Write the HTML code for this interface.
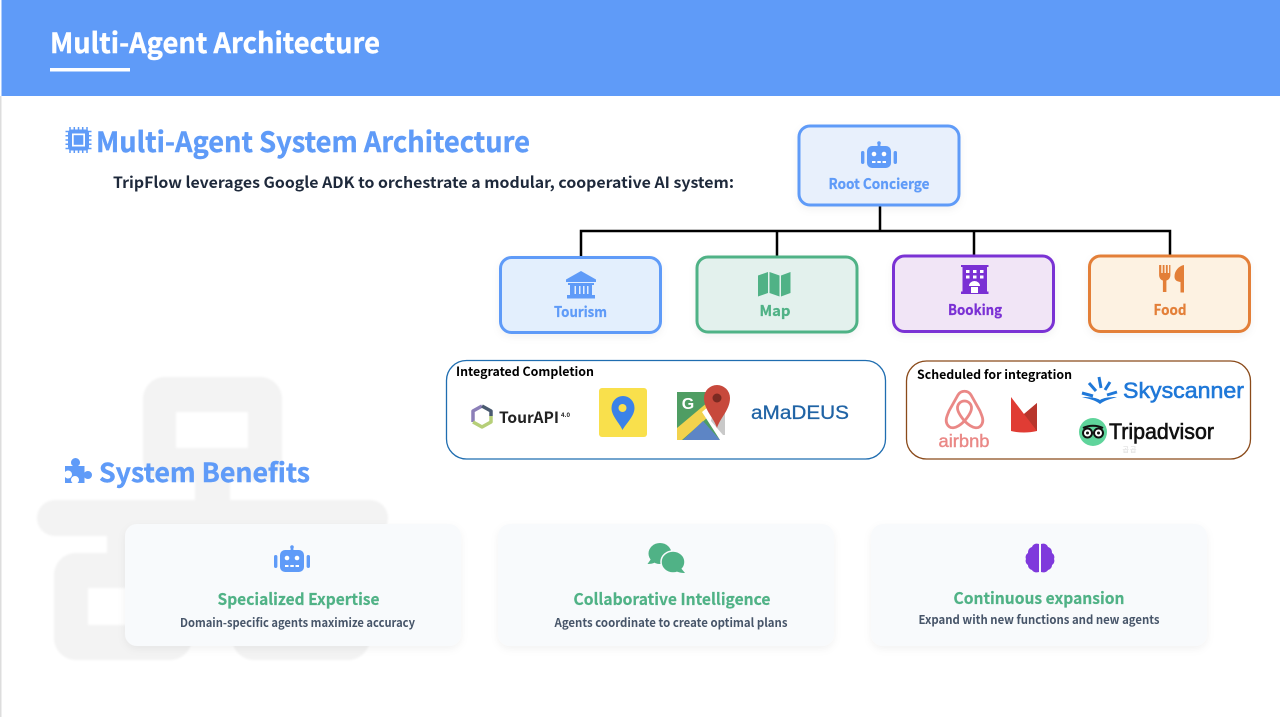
<!DOCTYPE html>
<html><head><meta charset="utf-8"><style>
html,body{margin:0;padding:0;background:#fff;width:1280px;height:717px;overflow:hidden}
svg{display:block}
text{font-family:"Noto Sans CJK KR","Liberation Sans",sans-serif;font-weight:700}
</style></head><body>
<svg width="1280" height="717" viewBox="0 0 1280 717" xmlns="http://www.w3.org/2000/svg">
<defs>
<filter id="s" x="-10%" y="-15%" width="120%" height="135%"><feDropShadow dx="0" dy="3" stdDeviation="4" flood-color="#000" flood-opacity=".05"/></filter>
<filter id="b" x="-5%" y="-5%" width="110%" height="110%"><feGaussianBlur stdDeviation="1"/></filter>
<g id="robot">
<rect x="-12" y="-11" width="24" height="22" rx="5"/>
<rect x="-1.4" y="-15" width="2.8" height="5"/><circle cx="0" cy="-14" r="1.8"/>
<rect x="-18" y="-6" width="3.4" height="13" rx="1.7"/><rect x="14.6" y="-6" width="3.4" height="13" rx="1.7"/>
<circle cx="-5" cy="-3" r="2.3" fill="#fff"/><circle cx="5" cy="-3" r="2.3" fill="#fff"/>
<rect x="-7" y="4" width="3.5" height="2" fill="#fff"/><rect x="-1.7" y="4" width="3.5" height="2" fill="#fff"/><rect x="3.5" y="4" width="3.5" height="2" fill="#fff"/>
</g>
</defs>

<rect x="0" y="0" width="1280" height="717" fill="#fff"/>
<rect x="0" y="96" width="1.5" height="621" fill="#ddd"/>
<rect x="1.5" y="0" width="1278.5" height="96" fill="#5f9bf8"/>
<text x="50" y="53" font-size="28" fill="#fff" stroke="#fff" stroke-width=".4" textLength="330" lengthAdjust="spacingAndGlyphs">Multi-Agent Architecture</text>
<rect x="50" y="68" width="80" height="3.5" fill="#fff"/>

<!-- watermark -->
<g fill="#f3f3f3" filter="url(#b)">
<path fill-rule="evenodd" d="M165 377h95a22 22 0 0 1 22 22v60a22 22 0 0 1-22 22h-95a22 22 0 0 1-22-22v-60a22 22 0 0 1 22-22zM176 412v36h72v-36z"/>
<rect x="195" y="478" width="35" height="25"/>
<rect x="37" y="500" width="351" height="36" rx="18"/>
<rect x="107" y="534" width="35" height="21"/>
<rect x="265" y="534" width="35" height="21"/>
<path fill-rule="evenodd" d="M76 553h94a22 22 0 0 1 22 22v63a22 22 0 0 1-22 22H76a22 22 0 0 1-22-22v-63a22 22 0 0 1 22-22zM88 588v37h70v-37z"/>
<rect x="232" y="553" width="138" height="107" rx="22"/>
</g>

<!-- section headings -->
<g fill="#5f9bf8" transform="translate(78.500 140)">
<path d="M-8.500-13v4M-4.200-13v4M0-13v4M4.200-13v4M8.500-13v4M-8.500 9v4M-4.200 9v4M0 9v4M4.200 9v4M8.500 9v4M-13-8.500h4M-13-4.200h4M-13 0h4M-13 4.200h4M-13 8.500h4M9-8.500h4M9-4.200h4M9 0h4M9 4.200h4M9 8.500h4" stroke="#5f9bf8" stroke-width="1.500"/>
<rect x="-10.500" y="-10.500" width="21" height="21" rx="3.500"/>
<rect x="-6.500" y="-6.500" width="13" height="13" fill="#fff"/><rect x="-4.800" y="-4.800" width="9.600" height="9.600"/>
</g>
<text x="96" y="152" font-size="28" fill="#5f9bf8" stroke="#5f9bf8" stroke-width=".4" textLength="434" lengthAdjust="spacingAndGlyphs">Multi-Agent System Architecture</text>
<text x="113" y="188" font-size="15.500" fill="#1e293b" textLength="621" lengthAdjust="spacingAndGlyphs">TripFlow leverages Google ADK to orchestrate a modular, cooperative AI system:</text>

<path fill="#5f9bf8" d="M65 466h8c-1.500-1-2-2-2-3.500a4.500 4.500 0 0 1 9 0c0 1.500-.5 2.500-2 3.500h6.500v6.500c1-1 2-1.500 3.500-1.500a4 4 0 0 1 0 8c-1.500 0-2.500-.5-3.500-1.500v5.500h-7c1-1 1.500-2 1.500-3a4 4 0 0 0-8 0c0 1 .5 2 1.500 3H65v-6c1 1 2 1.500 3 1.500a4 4 0 0 0 0-8c-1 0-2 .5-3 1.500z"/>
<text x="99" y="482" font-size="26" fill="#5f9bf8" stroke="#5f9bf8" stroke-width=".4" textLength="211" lengthAdjust="spacingAndGlyphs">System Benefits</text>

<!-- connectors -->
<g stroke="#000" stroke-width="2.500" fill="none">
<path d="M880 206V231M581 257V231H1170V255M777 231V256M974 231V255"/>
</g>

<!-- nodes -->
<g filter="url(#s)" stroke-width="3">
<rect x="799" y="126" width="160" height="79" rx="11" fill="#e8f0fc" stroke="#5f9bf8"/>
<rect x="500.500" y="257.500" width="160" height="75" rx="11" fill="#e3effd" stroke="#5f9bf8"/>
<rect x="697" y="257" width="160" height="75" rx="11" fill="#e3f1ed" stroke="#50b286"/>
<rect x="893.500" y="256" width="160" height="75.500" rx="11" fill="#f1e5f6" stroke="#7a30d4"/>
<rect x="1089.500" y="256" width="160" height="75.500" rx="11" fill="#fdf2e2" stroke="#e37f38"/>
</g>
<use href="#robot" transform="translate(879 157)" fill="#5f9bf8"/>
<text x="879" y="189" font-size="14.500" fill="#5f9bf8" stroke="#5f9bf8" stroke-width=".25" text-anchor="middle" textLength="101" lengthAdjust="spacingAndGlyphs">Root Concierge</text>

<!-- Tourism -->
<g fill="#5f9bf8">
<path d="M581 271l15 8.500v2.500h-30v-2.500z"/>
<rect x="568" y="283" width="26" height="2"/>
<rect x="570" y="285" width="22" height="10"/>
<rect x="567" y="295" width="28" height="3.500"/>
</g>
<g fill="#e3effd"><rect x="574.500" y="286" width="1.500" height="8"/><rect x="579" y="286" width="1.500" height="8"/><rect x="583" y="286" width="1.500" height="8"/><rect x="587" y="286" width="1.500" height="8"/></g>
<text x="580.500" y="317" font-size="14.500" fill="#5f9bf8" stroke="#5f9bf8" stroke-width=".25" text-anchor="middle" textLength="53" lengthAdjust="spacingAndGlyphs">Tourism</text>
<!-- Map -->
<path fill="#50b286" d="M758 275.500l10-3.500v21l-10 3.500zM769.500 272l10 3.500v21l-10-3.500zM781 275.500l9.500-3.500v21l-9.500 3.500z"/>
<text x="775" y="316" font-size="14.500" fill="#50b286" stroke="#50b286" stroke-width=".25" text-anchor="middle" textLength="31" lengthAdjust="spacingAndGlyphs">Map</text>
<!-- Booking -->
<path fill="#7a30d4" d="M961 265h27.500v2h-1.500v24.500h1.500v2.500h-27.500v-2.500h1.500v-24.500h-1.500z"/>
<g fill="#fff"><rect x="966" y="270" width="3.500" height="3"/><rect x="973" y="270" width="3.500" height="3"/><rect x="980" y="270" width="3.500" height="3"/><rect x="966" y="275.500" width="3.500" height="3"/><rect x="973" y="275.500" width="3.500" height="3"/><rect x="980" y="275.500" width="3.500" height="3"/><path d="M969 286a5.500 5 0 0 1 11 0zM971 287h7v6h-7z"/></g>
<text x="975" y="315" font-size="14.500" fill="#7a30d4" stroke="#7a30d4" stroke-width=".25" text-anchor="middle" textLength="54" lengthAdjust="spacingAndGlyphs">Booking</text>
<!-- Food -->
<path fill="#e37f38" d="M1159.500 265h1.800v8h1.400v-8h1.800v8h1.400v-8h1.800v8h1.400v-8h1.300v10c0 3-2 5-4 5.500v11.500h-3.500v-11.500c-2-.5-3.800-2.500-3.800-5.500v-10zM1184 265v27.500h-3.500v-10.500c-4-.5-6-2-6-5.500 0-5.500 4-10.500 9.500-11.500z"/>
<text x="1170" y="315" font-size="14.500" fill="#e37f38" stroke="#e37f38" stroke-width=".25" text-anchor="middle" textLength="33" lengthAdjust="spacingAndGlyphs">Food</text>

<!-- group boxes -->
<rect x="446.500" y="360.500" width="439" height="98.500" rx="20" fill="#fff" stroke="#1f6db0" stroke-width="1.300"/>
<rect x="906.500" y="361" width="344" height="98" rx="20" fill="#fff" stroke="#8a4a1a" stroke-width="1.300"/>
<text x="456" y="376" font-size="12.500" fill="#000" textLength="138" lengthAdjust="spacingAndGlyphs">Integrated Completion</text>
<text x="917" y="379" font-size="12.500" fill="#000" textLength="155" lengthAdjust="spacingAndGlyphs">Scheduled for integration</text>

<!-- TourAPI -->
<g fill="none" stroke-width="3.500" stroke-linejoin="round">
<path d="M473 422v-11l9-5" stroke="#8b7fb8"/><path d="M482 406l9 5v5" stroke="#4a5a70"/><path d="M491 416v6l-9 5-9-5" stroke="#b6cf78"/>
</g>
<text x="499" y="423" font-size="15.500" fill="#222" textLength="60" lengthAdjust="spacingAndGlyphs">TourAPI</text>
<text x="561" y="417" font-size="6" fill="#222">4.0</text>
<!-- Kakao map -->
<rect x="599" y="388" width="48" height="49" rx="3" fill="#f9e04c"/>
<path d="M622.500 430c-3-7-11-14-11-22a11.500 12 0 0 1 23 0c0 8-8 15-12 22z" fill="#3b82e8"/>
<circle cx="622.500" cy="408" r="4" fill="#f9e04c"/>
<!-- Google maps -->
<path d="M677 392h32l14 30v18h-41a5 5 0 0 1-5-5z" fill="#4f9d63"/>
<path d="M677 428l31-26 8 8-34 30h-5z" fill="#f2d24d"/>
<path d="M683 440l20-19 17 19z" fill="#5d85c5"/>
<path d="M702 412l7-6 16 16v18h-5z" fill="#fff"/>
<path d="M716 398l9 12v25h-2l-12-14z" fill="#c9c9c9"/>
<path d="M717 428c-3-10-13-18-13-30a13 13 0 0 1 26 0c0 12-10 20-13 30z" fill="#c7493c"/>
<circle cx="717" cy="398" r="4.500" fill="#7a2a22"/>
<text x="688" y="409" font-size="16" fill="#fff" text-anchor="middle" style="font-family:'Liberation Sans',sans-serif">G</text>
<!-- Amadeus -->
<text x="751" y="419" font-size="19.500" fill="#1f63a5" textLength="98" lengthAdjust="spacingAndGlyphs" style="font-family:'Liberation Sans',sans-serif;font-weight:400;stroke:#1f63a5;stroke-width:.3">aMaDEUS</text>

<!-- airbnb -->
<path d="M964.500 421c-9 9-15 8-17.500 3-2-4 0-8 2-13l9-16c3-5 10-5 13 0l9 16c2 5 4 9 2 13-2.500 5-8.500 6-17.500-3zM964.500 421c-5-6-7-10-7-13a7 7 0 0 1 14 0c0 3-2 7-7 13z" fill="none" stroke="#ea8886" stroke-width="2.800"/>
<text x="964" y="447" font-size="17.500" fill="#ea8886" text-anchor="middle" textLength="51" lengthAdjust="spacingAndGlyphs" style="font-family:'Liberation Sans',sans-serif;font-weight:400;stroke:#ea8886;stroke-width:.4">airbnb</text>
<!-- Red M -->
<path d="M1011 397l13 17 13-11v28c-8 2-18 2-26 0z" fill="#e03c34"/>
<path d="M1024 414l13-11v28z" fill="#b8352c"/>
<!-- Skyscanner -->
<g stroke="#1f78d8" stroke-width="3" fill="none">
<path d="M1082 393l11 3M1089 383l7 8M1099 377l2 11M1110 382l-5 8M1117 392l-10 3"/>
</g>
<path d="M1082 397c10 0 15 1 18 3 3-2 8-3 17-3-6 2-12 3-17 7-5-4-11-5-18-7z" fill="#1f78d8"/>
<text x="1123" y="398" font-size="22.500" fill="#1f78d8" textLength="121" lengthAdjust="spacingAndGlyphs" style="font-family:'Liberation Sans',sans-serif;font-weight:400;stroke:#1f78d8;stroke-width:.6">Skyscanner</text>
<!-- Tripadvisor -->
<circle cx="1093" cy="432" r="14" fill="#5fd49b"/>
<g fill="#fff" stroke="#111" stroke-width="2"><circle cx="1087.500" cy="433" r="4.500"/><circle cx="1098.500" cy="433" r="4.500"/></g>
<path d="M1083 428c6-3 14-3 20 0" stroke="#111" stroke-width="2" fill="none"/>
<circle cx="1087.500" cy="433" r="1.500" fill="#111"/><circle cx="1098.500" cy="433" r="1.500" fill="#111"/>
<text x="1109" y="439" font-size="22" fill="#111" textLength="105" lengthAdjust="spacingAndGlyphs" style="font-family:'Liberation Sans',sans-serif;font-weight:400;stroke:#111;stroke-width:.6">Tripadvisor</text>
<text x="1130" y="452" font-size="7" fill="#e5e5e5" text-anchor="middle" style="letter-spacing:1px">곱곱</text>

<!-- cards -->
<g fill="#f8fafc" filter="url(#s)">
<rect x="125" y="524" width="336" height="122" rx="12"/>
<rect x="498" y="524" width="336" height="122" rx="12"/>
<rect x="871" y="524" width="336" height="122" rx="12"/>
</g>
<use href="#robot" transform="translate(292 561)" fill="#5f9bf8"/>
<text x="298.500" y="605" font-size="16" fill="#50b286" stroke="#50b286" stroke-width=".2" text-anchor="middle" textLength="162" lengthAdjust="spacingAndGlyphs">Specialized Expertise</text>
<text x="297.500" y="627" font-size="12" fill="#475569" text-anchor="middle" textLength="235" lengthAdjust="spacingAndGlyphs">Domain-specific agents maximize accuracy</text>

<ellipse cx="660" cy="553.500" rx="11.500" ry="10.500" fill="#50b286"/>
<path d="M651 559l-3.500 5c3 0 6-.5 8-2z" fill="#50b286"/>
<ellipse cx="673" cy="562" rx="12" ry="11" fill="#50b286" stroke="#f8fafc" stroke-width="1.500"/>
<path d="M680 567l5 6c-3.500 0-7-.5-10-2.500z" fill="#50b286"/>
<text x="672" y="605" font-size="16" fill="#50b286" stroke="#50b286" stroke-width=".2" text-anchor="middle" textLength="197" lengthAdjust="spacingAndGlyphs">Collaborative Intelligence</text>
<text x="671" y="627" font-size="12" fill="#475569" text-anchor="middle" textLength="233" lengthAdjust="spacingAndGlyphs">Agents coordinate to create optimal plans</text>

<path d="M1039 544v28c-3 1-6 0-7-2-3-1-4-3-4-5-2-1-3-4-2-6-1-2 0-5 2-6 0-3 1-5 4-6 1-3 4-4 7-3zM1041 544v28c3 1 6 0 7-2 3-1 4-3 4-5 2-1 3-4 2-6 1-2 0-5-2-6 0-3-1-5-4-6-1-3-4-4-7-3z" fill="#7f39dc"/>
<text x="1039" y="604" font-size="16" fill="#50b286" stroke="#50b286" stroke-width=".2" text-anchor="middle" textLength="171" lengthAdjust="spacingAndGlyphs">Continuous expansion</text>
<text x="1039" y="624" font-size="12" fill="#475569" text-anchor="middle" textLength="241" lengthAdjust="spacingAndGlyphs">Expand with new functions and new agents</text>
</svg>
</body></html>
